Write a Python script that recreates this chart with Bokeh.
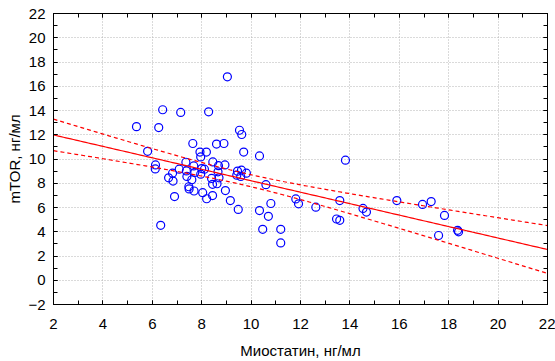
import numpy as np
from bokeh.plotting import figure
from bokeh.models import LinearAxis, FixedTicker, Range1d, ColumnDataSource, CustomLabelingPolicy
from bokeh.embed import file_html
from bokeh.resources import INLINE

# Data
miostatin = [5.36, 5.81, 6.13, 6.12, 6.26, 6.42, 7.15, 7.64, 7.36, 7.93,
             8.19, 7.96, 8.28, 9.04, 8.45, 8.60, 8.90, 8.68, 8.94, 9.53,
             9.62, 9.70, 10.34, 13.82,
             7.68, 7.09, 6.82, 7.38, 8.00, 8.11, 7.72, 7.96, 9.61, 9.81,
             9.58, 8.66, 6.66, 6.84, 7.40, 7.60, 8.40, 8.70, 9.42, 8.44,
             8.62, 10.60, 7.49, 7.69, 7.48, 8.04, 8.20, 8.44, 8.96, 9.16,
             6.90, 9.48, 10.80, 10.34, 10.70, 6.34, 10.47, 11.20, 11.20, 9.45,
             11.81, 11.92, 12.62, 13.59, 13.46, 13.59, 14.53, 14.67, 15.90, 16.94,
             17.29, 17.83, 17.59, 18.36, 18.40]
mtor = [12.67, 10.63, 9.51, 9.18, 12.59, 14.06, 13.84, 11.28, 9.73, 10.57,
        10.57, 10.17, 13.89, 16.78, 9.76, 11.23, 11.28, 9.45, 9.51, 12.37,
        12.02, 10.57, 10.25, 9.90,
        9.43, 9.16, 8.83, 9.02, 9.21, 9.16, 8.89, 8.75, 9.08, 8.83,
        8.56, 8.94, 8.45, 8.18, 8.56, 8.29, 8.40, 8.45, 8.67, 7.91,
        7.96, 7.88, 7.53, 7.36, 7.71, 7.22, 6.72, 6.98, 7.40, 6.57,
        6.90, 5.84, 6.33, 5.75, 5.27, 4.53, 4.20, 4.20, 3.08, 9.00,
        6.71, 6.30, 6.03, 6.57, 5.05, 4.94, 5.92, 5.62, 6.57, 6.25,
        6.49, 5.35, 3.69, 4.12, 3.99]

x_ticks = [2, 4, 6, 8, 10, 12, 14, 16, 18, 20, 22]
y_ticks = [-2, 0, 2, 4, 6, 8, 10, 12, 14, 16, 18, 20, 22]
x_label = "Миостатин, нг/мл"
y_label = "mTOR, нг/мл"
t_crit = 1.99  # 95% two-sided, df ~ n-2

# Linear regression with 95% confidence band for the mean
x = np.array(miostatin)
y = np.array(mtor)
n = len(x)
b, a = np.polyfit(x, y, 1)
resid = y - (a + b * x)
s = np.sqrt(np.sum(resid ** 2) / (n - 2))
xbar = x.mean()
sxx = np.sum((x - xbar) ** 2)
xs = np.linspace(x_ticks[0], x_ticks[-1], 200)
ys = a + b * xs
half = t_crit * s * np.sqrt(1.0 / n + (xs - xbar) ** 2 / sxx)

p = figure(width=555, height=361, output_backend="svg", toolbar_location=None,
           x_range=Range1d(x_ticks[0], x_ticks[-1]), y_range=Range1d(y_ticks[0], y_ticks[-1]),
           x_axis_label=x_label, y_axis_label=y_label,
           min_border_left=53, min_border_right=8, min_border_top=13, min_border_bottom=54)
p.outline_line_color = "black"
p.outline_line_width = 1
p.background_fill_color = "white"
p.border_fill_color = "white"

xt = FixedTicker(ticks=x_ticks, minor_ticks=list(range(x_ticks[0], x_ticks[-1] + 1)))
yt = FixedTicker(ticks=y_ticks, minor_ticks=list(range(y_ticks[0], y_ticks[-1] + 1)))
p.xaxis.ticker = xt
p.yaxis.ticker = yt

font = "Liberation Sans"
for ax in p.xaxis + p.yaxis:
    ax.major_tick_in = 4
    ax.major_tick_out = 0
    ax.minor_tick_in = 4
    ax.minor_tick_out = 0
    ax.major_label_text_font = font
    ax.major_label_text_font_size = "15px"
    ax.major_label_text_color = "black"
    ax.axis_label_text_font = font
    ax.axis_label_text_font_size = "15px"
    ax.axis_label_text_font_style = "normal"
    ax.axis_label_text_color = "black"
    ax.axis_line_color = "black"
p.xaxis.major_label_standoff = 14
p.xaxis.axis_label_standoff = 10
p.yaxis.major_label_standoff = 8
p.yaxis.axis_label_standoff = 2

no_labels = CustomLabelingPolicy(code="""
if (indices != null && typeof indices.unset === "function") {
    for (const i of [...indices]) indices.unset(i)
    return indices
}
return new Set()
""")
for side, tk in (("above", xt), ("right", yt)):
    ax = LinearAxis(ticker=tk, major_label_text_font_size="1px", major_label_standoff=0,
                    major_label_policy=no_labels,
                    major_tick_in=4, major_tick_out=0, minor_tick_in=4, minor_tick_out=0,
                    axis_line_color="black")
    p.add_layout(ax, side)

p.xgrid.ticker = xt
p.ygrid.ticker = yt
for g in (p.xgrid, p.ygrid):
    g.grid_line_color = "#b4b4b4"
    g.grid_line_dash = "1 2"
    g.grid_line_width = 1

src = ColumnDataSource(dict(x=miostatin, y=mtor))
p.scatter("x", "y", source=src, size=8, marker="circle", fill_color=None,
          line_color="#0000ff", line_width=1.2)

p.line(xs, ys, line_color="#ff0000", line_width=1.2)
p.line(xs, ys + half, line_color="#ff0000", line_width=1.2, line_dash="4 3")
p.line(xs, ys - half, line_color="#ff0000", line_width=1.2, line_dash="4 3")

open("out.html", "w").write(file_html(p, INLINE))
